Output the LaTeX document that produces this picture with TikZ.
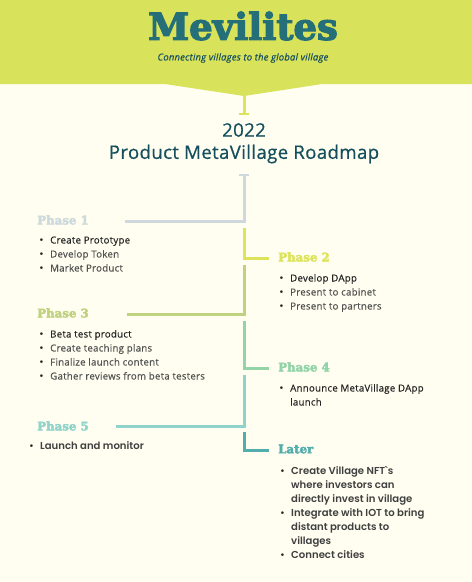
\documentclass[tikz,border=0pt]{standalone}
\usepackage{fontspec}
\setmainfont[LetterSpace=2.5,FakeBold=0.35]{Open Sans}
\newfontfamily\titlefont[FakeBold=3.2]{DejaVu Serif Bold}
\newfontfamily\phasefont[FakeBold=3.2]{DejaVu Serif Bold}
\newfontfamily\boldfont{Poppins SemiBold}
\newfontfamily\headfont[LetterSpace=2,FakeBold=0.6]{Open Sans}
\newfontfamily\dotfont{DejaVu Sans}
\definecolor{paper}{HTML}{FFFEF0}
\definecolor{banner}{HTML}{D8E25A}
\definecolor{teal}{HTML}{256F78}
\definecolor{deep}{HTML}{144F5E}
\definecolor{phaseA}{HTML}{CDD9DC}
\definecolor{phaseB}{HTML}{DDE35A}
\definecolor{phaseC}{HTML}{C0D17F}
\definecolor{phaseD}{HTML}{93D3A8}
\definecolor{phaseE}{HTML}{8FD3CA}
\definecolor{phaseF}{HTML}{52ADAD}
\tikzset{
  phase/.style={anchor=west, inner sep=0pt, font=\phasefont\fontsize{11.8}{14}\selectfont},
  entry/.style={anchor=west, inner sep=0pt, text height=9pt, text depth=2pt, text=black!68,
    font=\fontsize{9.7}{11}\selectfont},
  first/.style={entry, text=black!85},
  strong/.style={entry, text=black!75, font=\boldfont\fontsize{10.1}{11}\selectfont},
  dot/.style={label={[inner sep=0pt, text=black!85, font=\dotfont\fontsize{9}{9}\selectfont, yshift=-1pt, label distance=5.5pt]left:•}},
  stem/.style={line width=3pt, line join=miter}
}
\begin{document}
\begin{tikzpicture}[x=1pt, y=-1pt]
  \useasboundingbox (0,0) rectangle (472,582);
  \fill[paper] (0,0) rectangle (472,582);
  \fill[banner] (0,0) -- (472,0) -- (472,84) -- (322,84) -- (244,96) -- (165,84) -- (0,84) -- cycle;

  \node[at={(243,26)}, inner sep=0pt, text=teal, font=\titlefont\fontsize{37}{38}\selectfont] (brand) {Mevilites};
  \node[at={(243,58)}, inner sep=0pt, text=deep, font=\itshape\fontsize{9.4}{11}\selectfont] (motto) {Connecting villages to the global village};
  \node[at={(244,130)}, inner sep=0pt, text=deep, font=\headfont\fontsize{18.6}{20}\selectfont] (year) {2022};
  \node[at={(244,154)}, inner sep=0pt, text=deep, font=\headfont\fontsize{18.6}{20}\selectfont] (heading) {Product MetaVillage Roadmap};

  % phase labels
  \node[phase, text=phaseA, at={(37,220)}] (one) {Phase 1};
  \node[phase, text=phaseB, at={(278,257)}] (two) {Phase 2};
  \node[phase, text=phaseC, at={(37,313)}] (three) {Phase 3};
  \node[phase, text=phaseD, at={(278,367)}] (four) {Phase 4};
  \node[phase, text=phaseE, at={(37,426)}] (five) {Phase 5};
  \node[phase, text=phaseF, at={(278,449)}] (later) {Later};

  % lists
  \node[first, dot, at={(50,240)}] (oneA) {Create Prototype};
  \node[entry, dot, at={(50,254)}] (oneB) {Develop Token};
  \node[entry, dot, at={(50,268)}] (oneC) {Market Product};

  \node[first, dot, at={(290,278)}] (twoA) {Develop DApp};
  \node[entry, dot, at={(290,292)}] (twoB) {Present to cabinet};
  \node[entry, dot, at={(290,306)}] (twoC) {Present to partners};

  \node[first, dot, at={(50,334)}] (threeA) {Beta test product};
  \node[entry, dot, at={(50,348)}] (threeB) {Create teaching plans};
  \node[entry, dot, at={(50,362)}] (threeC) {Finalize launch content};
  \node[entry, dot, at={(50,376)}] (threeD) {Gather reviews from beta testers};

  \node[first, dot, at={(290,388)}] (fourA) {Announce MetaVillage DApp};
  \node[first, at={(290,402)}] (fourB) {launch};

  \node[strong, dot, at={(40,446)}] (fiveA) {Launch and monitor};

  \node[strong, dot, at={(291,471)}] (laterA) {Create Village NFT`s};
  \node[strong, at={(291,485)}] (laterB) {where investors can};
  \node[strong, at={(291,499)}] (laterC) {directly invest in village};
  \node[strong, dot, at={(291,513)}] (laterD) {Integrate with IOT to bring};
  \node[strong, at={(291,527)}] (laterE) {distant products to};
  \node[strong, at={(291,541)}] (laterF) {villages};
  \node[strong, dot, at={(291,555)}] (laterG) {Connect cities};

  % connector ends
  \coordinate (tip) at (244,96);
  \coordinate (tipEnd) at (244,114);
  \coordinate (capL) at (239,114);
  \coordinate (capR) at (249,114);
  \coordinate (oneTop) at (244,175);
  \coordinate (oneCapL) at (239,175);
  \coordinate (oneCapR) at (249,175);
  \coordinate (oneFree) at (125,221);
  \coordinate (twoTop) at (244,228);
  \coordinate (twoFree) at (269,258);
  \coordinate (threeTop) at (244,265);
  \coordinate (threeFree) at (127,314);
  \coordinate (fourTop) at (244,321);
  \coordinate (fourFree) at (269,368);
  \coordinate (fiveTop) at (244,375);
  \coordinate (fiveFree) at (116,426);
  \coordinate (laterTop) at (244,432);
  \coordinate (laterFree) at (269,450);

  \draw[stem, phaseB] (tip) -- (tipEnd);
  \draw[phaseB, line width=2pt] (capL) -- (capR);
  \draw[stem, phaseA] (oneTop) |- (oneFree);
  \draw[phaseA, line width=2pt] (oneCapL) -- (oneCapR);
  \draw[stem, phaseB] (twoTop) |- (twoFree);
  \draw[stem, phaseC] (threeTop) |- (threeFree);
  \draw[stem, phaseD] (fourTop) |- (fourFree);
  \draw[stem, phaseE] (fiveTop) |- (fiveFree);
  \draw[stem, phaseF] (laterTop) |- (laterFree);
\end{tikzpicture}
\end{document}
